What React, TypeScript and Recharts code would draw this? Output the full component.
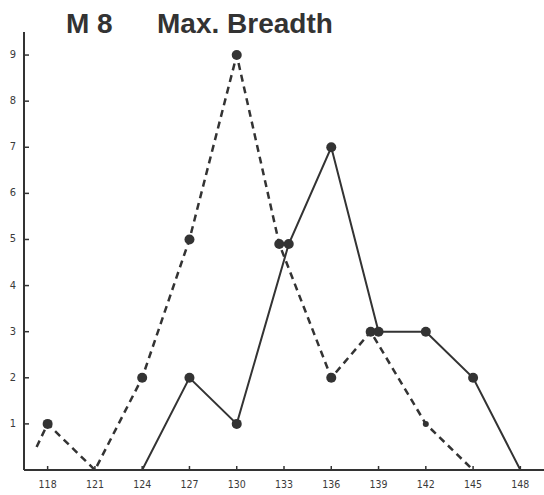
import { LineChart, Line, XAxis, YAxis } from 'recharts';

const xTicks = [118, 121, 124, 127, 130, 133, 136, 139, 142, 145, 148];
const yTicks = [1, 2, 3, 4, 5, 6, 7, 8, 9];

// dashed series
const dashedX = [117.3, 118, 121, 124, 127, 130, 132.7, 136, 138.5, 142, 145];
const dashedY = [0.5, 1, 0, 2, 5, 9, 4.9, 2, 3, 1, 0];

// solid series
const solidX = [124, 127, 130, 133.3, 136, 139, 142, 145, 148];
const solidY = [0, 2, 1, 4.9, 7, 3, 3, 2, 0];

const dashedData = dashedX.map((x, i) => ({ x, y: dashedY[i] }));
const solidData = solidX.map((x, i) => ({ x, y: solidY[i] }));

const INK = '#333';

const titleStyle = {
  position: 'absolute' as const,
  top: 8,
  fontFamily: 'Liberation Sans, Arial, sans-serif',
  fontWeight: 'bold' as const,
  fontSize: 28,
  color: INK,
  whiteSpace: 'pre' as const,
  lineHeight: '32px',
};

const XTick = (props: any) => {
  const { x, y, payload } = props;
  return (
    <g>
      <line x1={x} y1={y} x2={x} y2={y - 4} stroke={INK} strokeWidth={1.5} />
      <text x={x} y={y + 18} textAnchor="middle" fontSize={10.5} fill="#3a3a3a" fontFamily="DejaVu Sans Condensed, sans-serif">
        {payload.value}
      </text>
    </g>
  );
};

const YTick = (props: any) => {
  const { x, y, payload } = props;
  return (
    <g>
      <line x1={x} y1={y} x2={x + 5} y2={y} stroke={INK} strokeWidth={1.5} />
      <text x={x - 11} y={y} textAnchor="middle" dominantBaseline="middle" fontSize={11} fill="#3a3a3a" fontFamily="DejaVu Sans Condensed, sans-serif">
        {payload.value}
      </text>
    </g>
  );
};

const makeDot = (small?: number) => (props: any) => {
  const { cx, cy, payload, index } = props;
  if (payload.y === 0 || payload.x < 118) return <g key={index} />;
  const r = payload.x === small ? 3 : 5;
  return <circle key={index} cx={cx} cy={cy} r={r} fill={INK} />;
};

export default function App() {
  return (
    <div style={{ position: 'absolute', left: 0, top: 0, width: 544, height: 495, background: '#fff' }}>
      <div style={{ ...titleStyle, left: 66 }}>M 8</div>
      <div style={{ ...titleStyle, left: 157 }}>Max. Breadth</div>
      <LineChart width={544} height={495} margin={{ top: 32, right: 0, left: 0, bottom: 0 }}>
        <XAxis
          type="number"
          dataKey="x"
          domain={[116.5, 149.5]}
          ticks={xTicks}
          height={25}
          tickLine={false}
          tickSize={0}
          tickMargin={0}
          tick={<XTick />}
          axisLine={{ stroke: INK, strokeWidth: 2 }}
          allowDataOverflow
        />
        <YAxis
          type="number"
          dataKey="y"
          domain={[0, 9.5]}
          ticks={yTicks}
          width={24}
          tickLine={false}
          tickSize={0}
          tickMargin={0}
          tick={<YTick />}
          axisLine={{ stroke: INK, strokeWidth: 2 }}
          allowDataOverflow
        />
        <Line
          data={dashedData}
          dataKey="y"
          type="linear"
          stroke={INK}
          strokeWidth={2.5}
          strokeDasharray="7 5"
          dot={makeDot(142)}
          activeDot={false}
          isAnimationActive={false}
        />
        <Line
          data={solidData}
          dataKey="y"
          type="linear"
          stroke={INK}
          strokeWidth={2}
          dot={makeDot()}
          activeDot={false}
          isAnimationActive={false}
        />
      </LineChart>
    </div>
  );
}
